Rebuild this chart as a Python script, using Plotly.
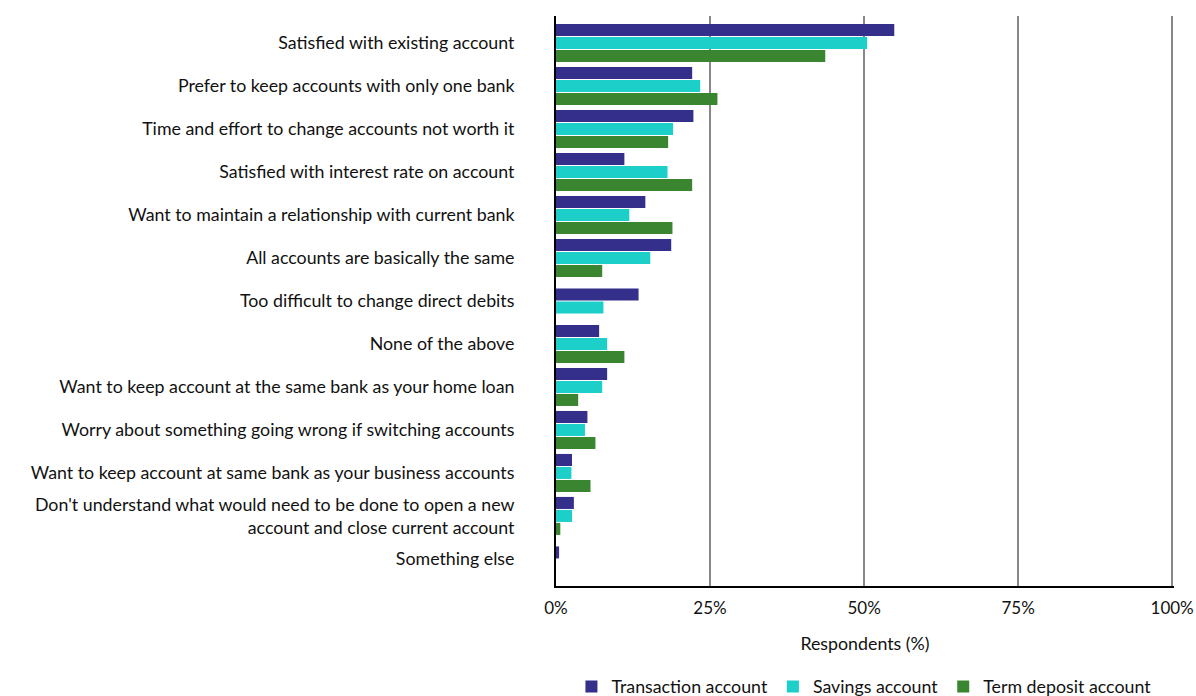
import plotly.graph_objects as go

# Reasons for not switching accounts, share of respondents (%)
categories = [
    "Satisfied with existing account",
    "Prefer to keep accounts with only one bank",
    "Time and effort to change accounts not worth it",
    "Satisfied with interest rate on account",
    "Want to maintain a relationship with current bank",
    "All accounts are basically the same",
    "Too difficult to change direct debits",
    "None of the above",
    "Want to keep account at the same bank as your home loan",
    "Worry about something going wrong if switching accounts",
    "Want to keep account at same bank as your business accounts",
    "Don't understand what would need to be done to open a new<br>account and close current account",
    "Something else",
]

transaction = [54.9, 22.1, 22.3, 11.1, 14.5, 18.7, 13.4, 7.0, 8.3, 5.1, 2.6, 2.9, 0.5]
savings = [50.5, 23.4, 19.0, 18.1, 11.9, 15.3, 7.7, 8.3, 7.5, 4.7, 2.5, 2.6, 0.0]
term_deposit = [43.7, 26.2, 18.2, 22.1, 18.9, 7.5, None, 11.1, 3.6, 6.4, 5.6, 0.7, None]

series_names = ["Transaction account", "Savings account", "Term deposit account"]
series_values = [transaction, savings, term_deposit]
series_colors = ["#352F8C", "#1DCFC9", "#3A852F"]

x_ticks = [0, 25, 50, 75, 100]
x_tick_text = ["0%", "25%", "50%", "75%", "100%"]

FONT = "Lato"
TEXT_SIZE = 17.8
BAR_W = 0.28
STEP = 0.302

# Bars within each category are packed around its centre, skipping missing series
offsets = [[0.0] * len(categories) for _ in series_values]
for i in range(len(categories)):
    present = [k for k, vals in enumerate(series_values) if vals[i] is not None]
    n = len(present)
    for j, k in enumerate(present):
        offsets[k][i] = -n * STEP / 2 + j * STEP + (STEP - BAR_W) / 2

fig = go.Figure()
for name, vals, col, off in zip(series_names, series_values, series_colors, offsets):
    fig.add_trace(go.Bar(
        y=list(range(len(categories))),
        x=vals,
        orientation="h",
        name=name,
        marker=dict(color=col, line=dict(width=0)),
        width=BAR_W,
        offset=off,
        hoverinfo="x+name",
    ))

fig.update_layout(
    width=1196,
    height=696,
    barmode="overlay",
    plot_bgcolor="white",
    paper_bgcolor="white",
    margin=dict(l=556, r=22, t=16, b=110, autoexpand=False),
    font=dict(family=FONT, size=TEXT_SIZE, color="#111111"),
    showlegend=True,
    legend=dict(
        orientation="h",
        x=0.025, xanchor="left",
        y=-0.177, yanchor="middle",
        font=dict(family=FONT, size=TEXT_SIZE, color="#111111"),
        traceorder="normal",
    ),
    xaxis=dict(
        range=[0, 100.3],
        tickvals=x_ticks,
        ticktext=x_tick_text,
        tickfont=dict(family=FONT, size=17),
        ticklabelstandoff=6,
        showgrid=True,
        gridcolor="#888888",
        gridwidth=2,
        zeroline=False,
        showline=True,
        linecolor="black",
        linewidth=2,
        ticks="",
        title=dict(text="Respondents (%)", font=dict(family=FONT, size=TEXT_SIZE), standoff=20),
        automargin=False,
        fixedrange=True,
    ),
    yaxis=dict(
        range=[12.63, -0.63],
        tickvals=list(range(len(categories))),
        ticktext=categories,
        tickfont=dict(family=FONT, size=TEXT_SIZE),
        ticklabelstandoff=36,
        showgrid=False,
        zeroline=False,
        showline=True,
        linecolor="black",
        linewidth=2,
        ticks="",
        automargin=False,
        fixedrange=True,
    ),
)

fig.write_html("out.html")
